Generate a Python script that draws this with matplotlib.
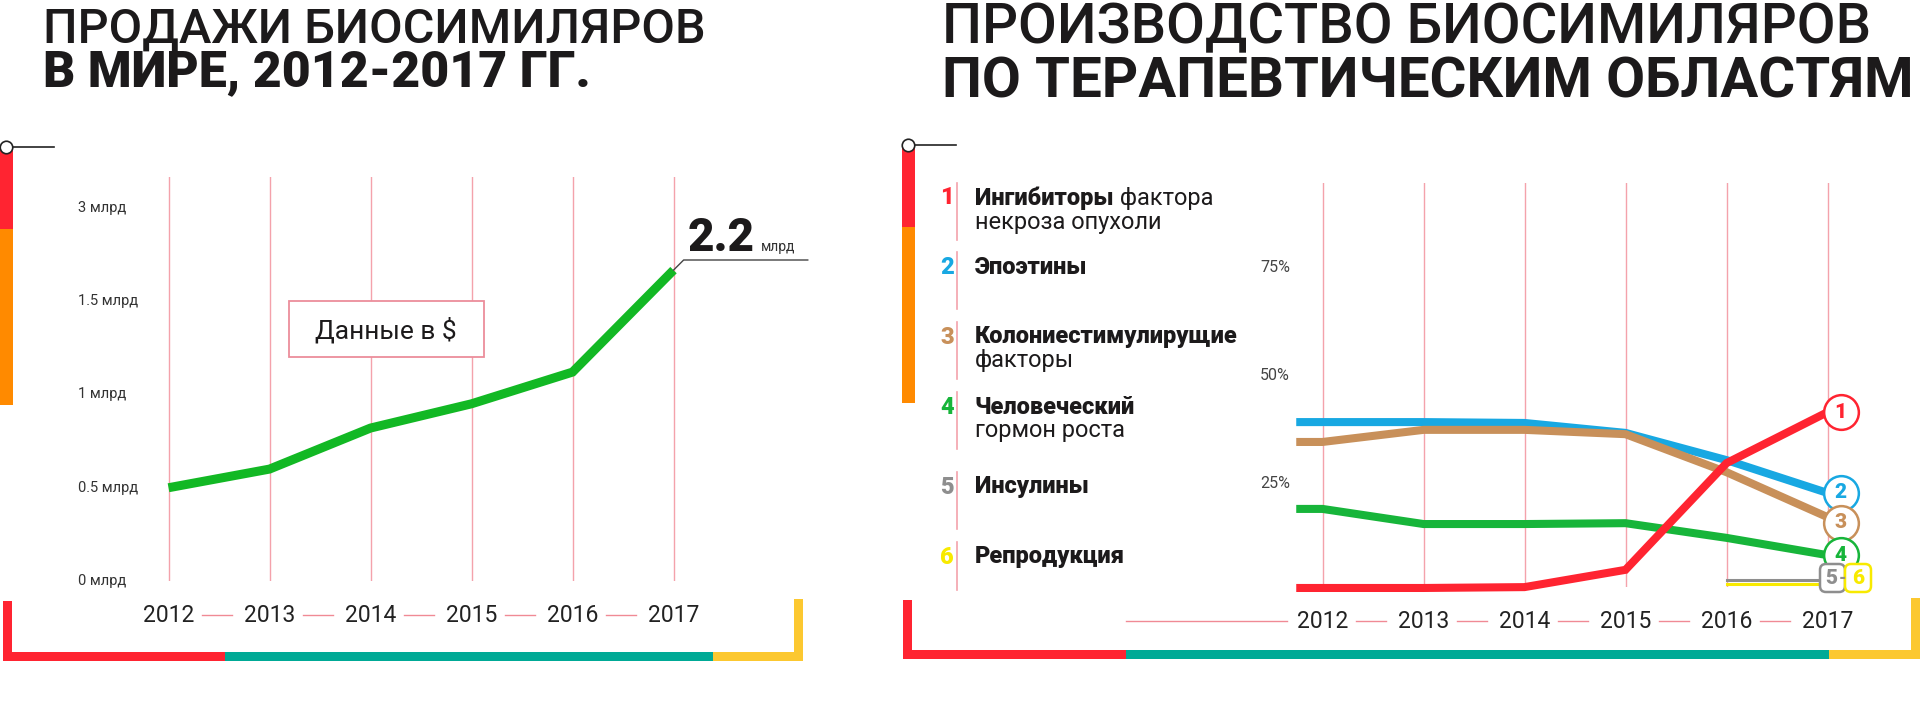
import numpy as np
import matplotlib
matplotlib.use("Agg")
import matplotlib.pyplot as plt
from matplotlib.patches import Rectangle, FancyBboxPatch
from matplotlib.transforms import blended_transform_factory
from matplotlib import font_manager

W, H = 1920, 707
FONT = "Roboto"

# ---- data: left chart (sales, bn $) ----
years = [2012, 2013, 2014, 2015, 2016, 2017]
sales_bn = [0.5, 0.6, 0.82, 0.95, 1.12, 2.0]
sales_tick_vals = [0, 0.5, 1, 1.5, 3]
sales_tick_labels = ["0 млрд", "0.5 млрд", "1 млрд", "1.5 млрд", "3 млрд"]
sales_last_label = "2.2"

# ---- data: right chart (share by therapeutic area, %) ----
share_tnf = [0.7, 0.7, 0.9, 4.9, 29.6, 41.4]
share_epo = [39.1, 39.1, 38.9, 36.6, 30.3, 22.7]
share_csf = [34.5, 37.3, 37.3, 36.3, 27.5, 17.1]
share_hgh = [19.0, 15.5, 15.5, 15.7, 12.3, 8.3]
late_years = [2016, 2017]
share_insulin = [2.5, 2.5]
share_repro = [1.6, 1.6]
pct_ticks = [25, 50, 75]
pct_labels = ["25%", "50%", "75%"]

legend_bold = ["Ингибиторы", "Эпоэтины", "Колониестимулирущие",
               "Человеческий", "Инсулины", "Репродукция"]
legend_rest = [" фактора", "", "", "", "", ""]
legend_line2 = ["некроза опухоли", "", "факторы", "гормон роста", "", ""]

RED = "#ff2431"
ORANGE = "#ff8a00"
TEAL = "#00aa96"
YELLOW = "#fcc830"
GREEN = "#12b824"
PINK = "#f4a2ab"
area_colors = [RED, "#18a8e2", "#c8905a", "#17b53a", "#8e8e8e", "#f8ea00"]


def px_box(x0, y0, x1, y1):
    return [x0 / W, 1 - y1 / H, (x1 - x0) / W, (y1 - y0) / H]


def has_font(name):
    try:
        font_manager.findfont(name, fallback_to_default=False)
        return True
    except Exception:
        return False


fig = plt.figure(figsize=(W / 100, H / 100), dpi=100)
renderer = fig.canvas.get_renderer()

bg = fig.add_axes([0, 0, 1, 1], zorder=0)
bg.set_xlim(0, W)
bg.set_ylim(H, 0)
bg.axis("off")


def fit_text(x, y, s, width, size=36, max_size=None, **kw):
    t = bg.text(x, y, s, ha="left", va="baseline", fontsize=size, **kw)
    w = t.get_window_extent(renderer).width
    new = size * width / w
    if max_size:
        new = min(new, max_size)
    t.set_fontsize(new)
    return t


# ---- titles ----
fit_text(43, 43, "ПРОДАЖИ БИОСИМИЛЯРОВ", 765, max_size=35, family=FONT,
         fontweight="medium", color="#1c1a1b")
fit_text(43, 86, "В МИРЕ, 2012-2017 ГГ.", 593, max_size=36, family=FONT,
         fontweight="black", color="#1c1a1b")
narrow = "Liberation Sans Narrow" if has_font("Liberation Sans Narrow") else FONT
fit_text(942, 43, "ПРОИЗВОДСТВО БИОСИМИЛЯРОВ", 928, family=narrow,
         fontweight="medium", color="#1c1a1b")
fit_text(942, 98, "ПО ТЕРАПЕВТИЧЕСКИМ ОБЛАСТЯМ", 972, family=narrow,
         fontweight="bold", color="#1c1a1b")


# ---- decorative side bars / brackets ----
def side_bar(x0, top, mid, bottom):
    bg.add_patch(Rectangle((x0, top), 13, mid - top, color=RED, lw=0))
    bg.add_patch(Rectangle((x0, mid), 13, bottom - mid, color=ORANGE, lw=0))
    bg.plot([x0 + 6, x0 + 54], [top, top], color="#222", lw=1.2, zorder=3)
    bg.plot([x0 + 6], [top], "o", ms=9, mfc="white", mec="#222", mew=1.2, zorder=4)


def bracket(x0, x_red, x_teal, x1, top, bottom):
    th = 9
    bg.add_patch(Rectangle((x0, top), th, bottom - top, color=RED, lw=0))
    bg.add_patch(Rectangle((x0, bottom - th), x_red - x0, th, color=RED, lw=0))
    bg.add_patch(Rectangle((x_red, bottom - th), x_teal - x_red, th, color=TEAL, lw=0))
    bg.add_patch(Rectangle((x_teal, bottom - th), x1 - x_teal, th, color=YELLOW, lw=0))
    bg.add_patch(Rectangle((x1 - th, top - 2), th, bottom - top + 2, color=YELLOW, lw=0))


side_bar(0, 147, 229, 405)
side_bar(902, 145, 227, 403)
bracket(3, 225, 713, 803, 601, 661)
bracket(903, 1126, 1829, 1920, 600, 659)

# ================= left chart =================
ax = fig.add_axes(px_box(118, 177, 724, 581), zorder=2)
ax.patch.set_alpha(0)
ax.set_xlim(2011.5, 2017.5)
ax.set_ylim(0, 4.332)
ax.axis("off")

tick_pos = np.arange(len(sales_tick_vals))
sales_pos = np.interp(sales_bn, sales_tick_vals, tick_pos)

for yr in years:
    ax.axvline(yr, color=PINK, lw=1, zorder=1)
ax.plot(years, sales_pos, color=GREEN, lw=6.5, solid_joinstyle="miter",
        solid_capstyle="butt", zorder=3, clip_on=False)

ytr = blended_transform_factory(bg.transData, ax.transData)
for p, lab in zip(tick_pos, sales_tick_labels):
    ax.text(78, p, lab, transform=ytr, ha="left", va="center",
            fontsize=10.5, family=FONT, color="#333")

xtr = blended_transform_factory(ax.transData, bg.transData)
for i, yr in enumerate(years):
    ax.text(yr, 616, str(yr), transform=xtr, ha="center", va="center",
            fontsize=16.5, family=FONT, color="#222")
    if i < len(years) - 1:
        ax.plot([yr + 0.33, yr + 0.63], [615, 615], transform=xtr,
                color="#f08a95", lw=1, clip_on=False)

# "Данные в $" box
ax.add_patch(Rectangle((289, 301), 195, 56, transform=bg.transData,
                       fc="white", ec="#ec8d9b", lw=1.3, zorder=4, clip_on=False))
ax.text(386, 330, "Данные в $", transform=bg.transData, ha="center",
        va="center", fontsize=19, family=FONT, color="#1c1a1b", zorder=5)

# 2017 callout
ax.annotate("", xy=(years[-1], sales_pos[-1]), xytext=(808, 260),
            textcoords=bg.transData,
            arrowprops=dict(arrowstyle="-", color="#444", lw=1,
                            shrinkA=0, shrinkB=0,
                            connectionstyle="angle,angleA=0,angleB=45,rad=0"),
            zorder=4)
bg.text(688, 251, sales_last_label, ha="left", va="baseline",
        fontsize=33, family=FONT, fontweight="black", color="#1c1a1b", zorder=5)
bg.text(761, 251, "млрд", ha="left", va="baseline", fontsize=10,
        family=FONT, color="#333", zorder=5)

# ================= right chart =================
ax2 = fig.add_axes(px_box(1272, 183, 1878, 587), zorder=2)
ax2.patch.set_alpha(0)
ax2.set_xlim(2011.5, 2017.5)
ax2.set_ylim((591 - 587) / 4.32, (591 - 183) / 4.32)
ax2.axis("off")

for yr in years:
    ax2.axvline(yr, color=PINK, lw=1, zorder=1)

x_lead = np.r_[years[0] - 0.26, years]
series = [share_epo, share_csf, share_hgh, share_tnf]
series_z = [3, 4, 5, 7]
for vals, k, z in zip(series, [1, 2, 3, 0], series_z):
    ax2.plot(x_lead, np.r_[vals[0], vals], color=area_colors[k], lw=5.8,
             solid_joinstyle="miter", solid_capstyle="butt",
             zorder=z, clip_on=False)

ax2.plot(late_years, share_insulin, color=area_colors[4], lw=2.2, zorder=3, clip_on=False)
ax2.plot(late_years, share_repro, color=area_colors[5], lw=2.2, zorder=3, clip_on=False)

ytr2 = blended_transform_factory(bg.transData, ax2.transData)
for v, lab in zip(pct_ticks, pct_labels):
    ax2.text(1290, v, lab, transform=ytr2, ha="right", va="center",
             fontsize=11.5, family=FONT, color="#444")

xtr2 = blended_transform_factory(ax2.transData, bg.transData)
for i, yr in enumerate(years):
    ax2.text(yr, 622, str(yr), transform=xtr2, ha="center", va="center",
             fontsize=16.5, family=FONT, color="#222")
    if i < len(years) - 1:
        ax2.plot([yr + 0.33, yr + 0.63], [621, 621], transform=xtr2,
                 color="#f08a95", lw=1, clip_on=False)
bg.plot([1126, 1287], [621, 621], color="#f08a95", lw=1)

# end-of-line badges, spread so they don't stack
ends = [share_tnf[-1], share_epo[-1], share_csf[-1], share_hgh[-1]]
min_gap = 30 / 4.32
badge_y = []
for e in ends:
    if badge_y and badge_y[-1] - min_gap < e < badge_y[-1]:
        e = badge_y[-1] - min_gap
    badge_y.append(e)
bx = years[-1] + 13 / 101
for k, by in enumerate(badge_y):
    c = area_colors[k]
    ax2.plot([bx], [by], "o", ms=25, mfc="white", mec=c, mew=1.8,
             zorder=10 + k, clip_on=False)
    ax2.text(bx, by, str(k + 1), ha="center", va="center", fontsize=15,
             family=FONT, fontweight="black", color=c, zorder=11 + k)

# 5-6 badge (drawn in ax2 so it sits above the lines)
ax2.add_patch(FancyBboxPatch((1820, 564), 25, 28, transform=bg.transData,
                             boxstyle="round,pad=0,rounding_size=6",
                             fc="white", ec=area_colors[4], lw=1.8,
                             zorder=20, clip_on=False))
ax2.add_patch(FancyBboxPatch((1845, 564), 26, 28, transform=bg.transData,
                             boxstyle="round,pad=0,rounding_size=6",
                             fc="white", ec=area_colors[5], lw=1.8,
                             zorder=21, clip_on=False))
ax2.text(1831, 579, "5", transform=bg.transData, ha="center", va="center",
         fontsize=15, family=FONT, fontweight="black", color=area_colors[4], zorder=22)
ax2.text(1842, 578, "-", transform=bg.transData, ha="center", va="center",
         fontsize=12, family=FONT, fontweight="black", color=area_colors[4], zorder=23)
ax2.text(1858, 579, "6", transform=bg.transData, ha="center", va="center",
         fontsize=15, family=FONT, fontweight="black", color=area_colors[5], zorder=22)

# ---- legend ----
legend_y = [198, 267, 337, 407, 487, 557]
for k, y in enumerate(legend_y):
    bg.text(947, y, str(k + 1), ha="center", va="center", fontsize=17,
            family=FONT, fontweight="black", color=area_colors[k])
    bg.plot([957, 957], [y - 15, min(y + 42, 590)], color=PINK, lw=1.2)
    tb = bg.text(975, y, legend_bold[k], ha="left", va="center", fontsize=17,
                 family=FONT, fontweight="black", color="#1c1a1b")
    if legend_rest[k]:
        w = tb.get_window_extent(renderer).width
        bg.text(975 + w, y, legend_rest[k], ha="left", va="center",
                fontsize=17, family=FONT, color="#1c1a1b")
    if legend_line2[k]:
        bg.text(975, y + 24, legend_line2[k], ha="left", va="center",
                fontsize=17, family=FONT, color="#1c1a1b")

fig.savefig("out.png", dpi=100, facecolor="white")
